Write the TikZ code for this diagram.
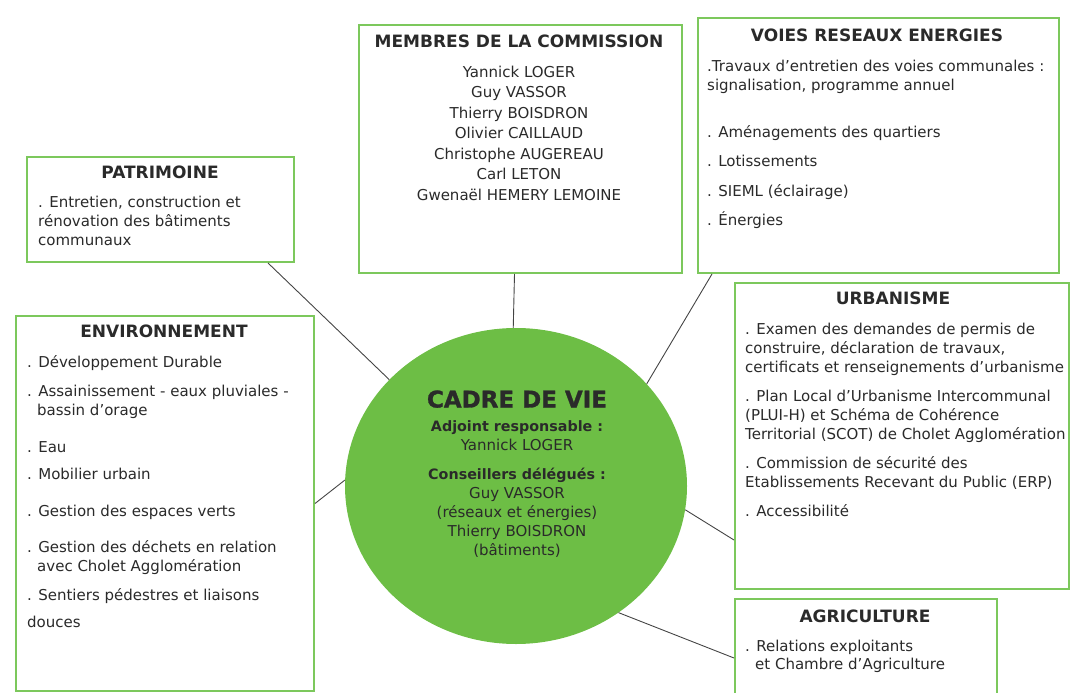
\documentclass[tikz,border=0pt]{standalone}
\usepackage{fontspec}
\setmainfont{DejaVu Sans}
\newfontfamily\heavyfont[FakeBold=1.2]{DejaVu Sans Bold}
\usetikzlibrary{shapes.geometric}
\definecolor{boxgreen}{HTML}{7CC85C}
\definecolor{circgreen}{HTML}{6DBE45}
\definecolor{txt}{HTML}{2A2A2A}
\definecolor{connc}{HTML}{444444}
\tikzset{
  box/.style={draw=boxgreen, line width=2pt, fill=white, rectangle, inner sep=0pt, anchor=north west},
  ttl/.style={font=\bfseries\fontsize{17}{20}\selectfont, text=txt, inner sep=0pt, anchor=center, text height=12.5pt, text depth=0pt},
  sub/.style={font=\bfseries\fontsize{14.3}{17}\selectfont, text=txt, inner sep=0pt, anchor=center, text height=11pt, text depth=3pt},
  itm/.style={font=\fontsize{15}{18}\selectfont, text=txt, inner sep=0pt, anchor=west, text height=11.5pt, text depth=3pt},
  nm/.style={itm, anchor=center},
  connector/.style={draw=connc, line width=0.9pt},
}
\begin{document}
\begin{tikzpicture}[x=1pt,y=-1pt]
\useasboundingbox (0,0) rectangle (1071,693);
% boxes
\node[box, minimum width=267pt, minimum height=105pt] (pat) at (26,156) {};
\node[box, minimum width=323pt, minimum height=248pt] (mem) at (358,24) {};
\node[box, minimum width=361pt, minimum height=255pt] (voi) at (697,17) {};
\node[box, minimum width=298pt, minimum height=375pt] (env) at (15,315) {};
\node[box, minimum width=334pt, minimum height=306pt] (urb) at (734,282) {};
\node[box, minimum width=262pt, minimum height=122pt] (agr) at (734,598) {};
% central ellipse
\node[ellipse, fill=circgreen, minimum width=342pt, minimum height=316pt, inner sep=0pt] (cv) at (516,486) {};
% connectors
\draw[connector] ([xshift=242pt]pat.south west) -- (cv.140.6);
\draw[connector] ([xshift=-6pt]mem.south) -- (cv.91.5);
\draw[connector] ([xshift=15pt]voi.south west) -- (cv.38.2);
\draw[connector] (env.east) -- (cv.178.7);
\draw[connector] ([yshift=-104pt]urb.west) -- (cv.-8.7);
\draw[connector] ([yshift=2pt]agr.west) -- (cv.-51.9);
% PATRIMOINE
\node[ttl] (patt) at (160,172) {PATRIMOINE};
\node[itm] (pat1) at (38,203) {. Entretien, construction et};
\node[itm] (pat2) at (38,222) {rénovation des bâtiments};
\node[itm] (pat3) at (38,241) {communaux};
% MEMBRES
\node[ttl] (memt) at (519,41) {MEMBRES DE LA COMMISSION};
\node[nm] (m1) at (519,73) {Yannick LOGER};
\node[nm] (m2) at (519,93) {Guy VASSOR};
\node[nm] (m3) at (519,114) {Thierry BOISDRON};
\node[nm] (m4) at (519,134) {Olivier CAILLAUD};
\node[nm] (m5) at (519,155) {Christophe AUGEREAU};
\node[nm] (m6) at (519,175) {Carl LETON};
\node[nm] (m7) at (519,196) {Gwenaël HEMERY LEMOINE};
% VOIES
\node[ttl] (voit) at (877,35) {VOIES RESEAUX ENERGIES};
\node[itm] (v1) at (707,67) {.Travaux d’entretien des voies communales :};
\node[itm] (v2) at (707,86) {signalisation, programme annuel};
\node[itm] (v3) at (707,133) {. Aménagements des quartiers};
\node[itm] (v4) at (707,162) {. Lotissements};
\node[itm] (v5) at (707,192) {. SIEML (éclairage)};
\node[itm] (v6) at (707,221) {. Énergies};
% ENVIRONNEMENT
\node[ttl] (envt) at (164,331) {ENVIRONNEMENT};
\node[itm] (e1) at (27,363) {. Développement Durable};
\node[itm] (e2) at (27,392) {. Assainissement - eaux pluviales -};
\node[itm] (e3) at (37,411) {bassin d’orage};
\node[itm] (e4) at (27,448) {. Eau};
\node[itm] (e5) at (27,475) {. Mobilier urbain};
\node[itm] (e6) at (27,512) {. Gestion des espaces verts};
\node[itm] (e7) at (27,548) {. Gestion des déchets en relation};
\node[itm] (e8) at (37,567) {avec Cholet Agglomération};
\node[itm] (e9) at (27,596) {. Sentiers pédestres et liaisons};
\node[itm] (e10) at (27,623) {douces};
% URBANISME
\node[ttl] (urbt) at (893,298) {URBANISME};
\node[itm] (u1) at (745,330) {. Examen des demandes de permis de};
\node[itm] (u2) at (745,349) {construire, déclaration de travaux,};
\node[itm] (u3) at (745,368) {certificats et renseignements d’urbanisme};
\node[itm] (u4) at (745,397) {. Plan Local d’Urbanisme Intercommunal};
\node[itm] (u5) at (745,416) {(PLUI-H) et Schéma de Cohérence};
\node[itm] (u6) at (745,435) {Territorial (SCOT) de Cholet Agglomération};
\node[itm] (u7) at (745,464) {. Commission de sécurité des};
\node[itm] (u8) at (745,483) {Etablissements Recevant du Public (ERP)};
\node[itm] (u9) at (745,512) {. Accessibilité};
% AGRICULTURE
\node[ttl] (agrt) at (865,616) {AGRICULTURE};
\node[itm] (a1) at (745,647) {. Relations exploitants};
\node[itm] (a2) at (755,665) {et Chambre d’Agriculture};
% central texts
\node[ttl, font=\heavyfont\fontsize{23}{26}\selectfont, text height=17pt, text depth=0pt] (cvt) at (517,399) {CADRE DE VIE};
\node[sub] (c1) at (517,427) {Adjoint responsable :};
\node[nm] (c2) at (517,446) {Yannick LOGER};
\node[sub] (c3) at (517,475) {Conseillers délégués :};
\node[nm] (c4) at (517,494) {Guy VASSOR};
\node[nm] (c5) at (517,513) {(réseaux et énergies)};
\node[nm] (c6) at (517,532) {Thierry BOISDRON};
\node[nm] (c7) at (517,551) {(bâtiments)};
\end{tikzpicture}
\end{document}
